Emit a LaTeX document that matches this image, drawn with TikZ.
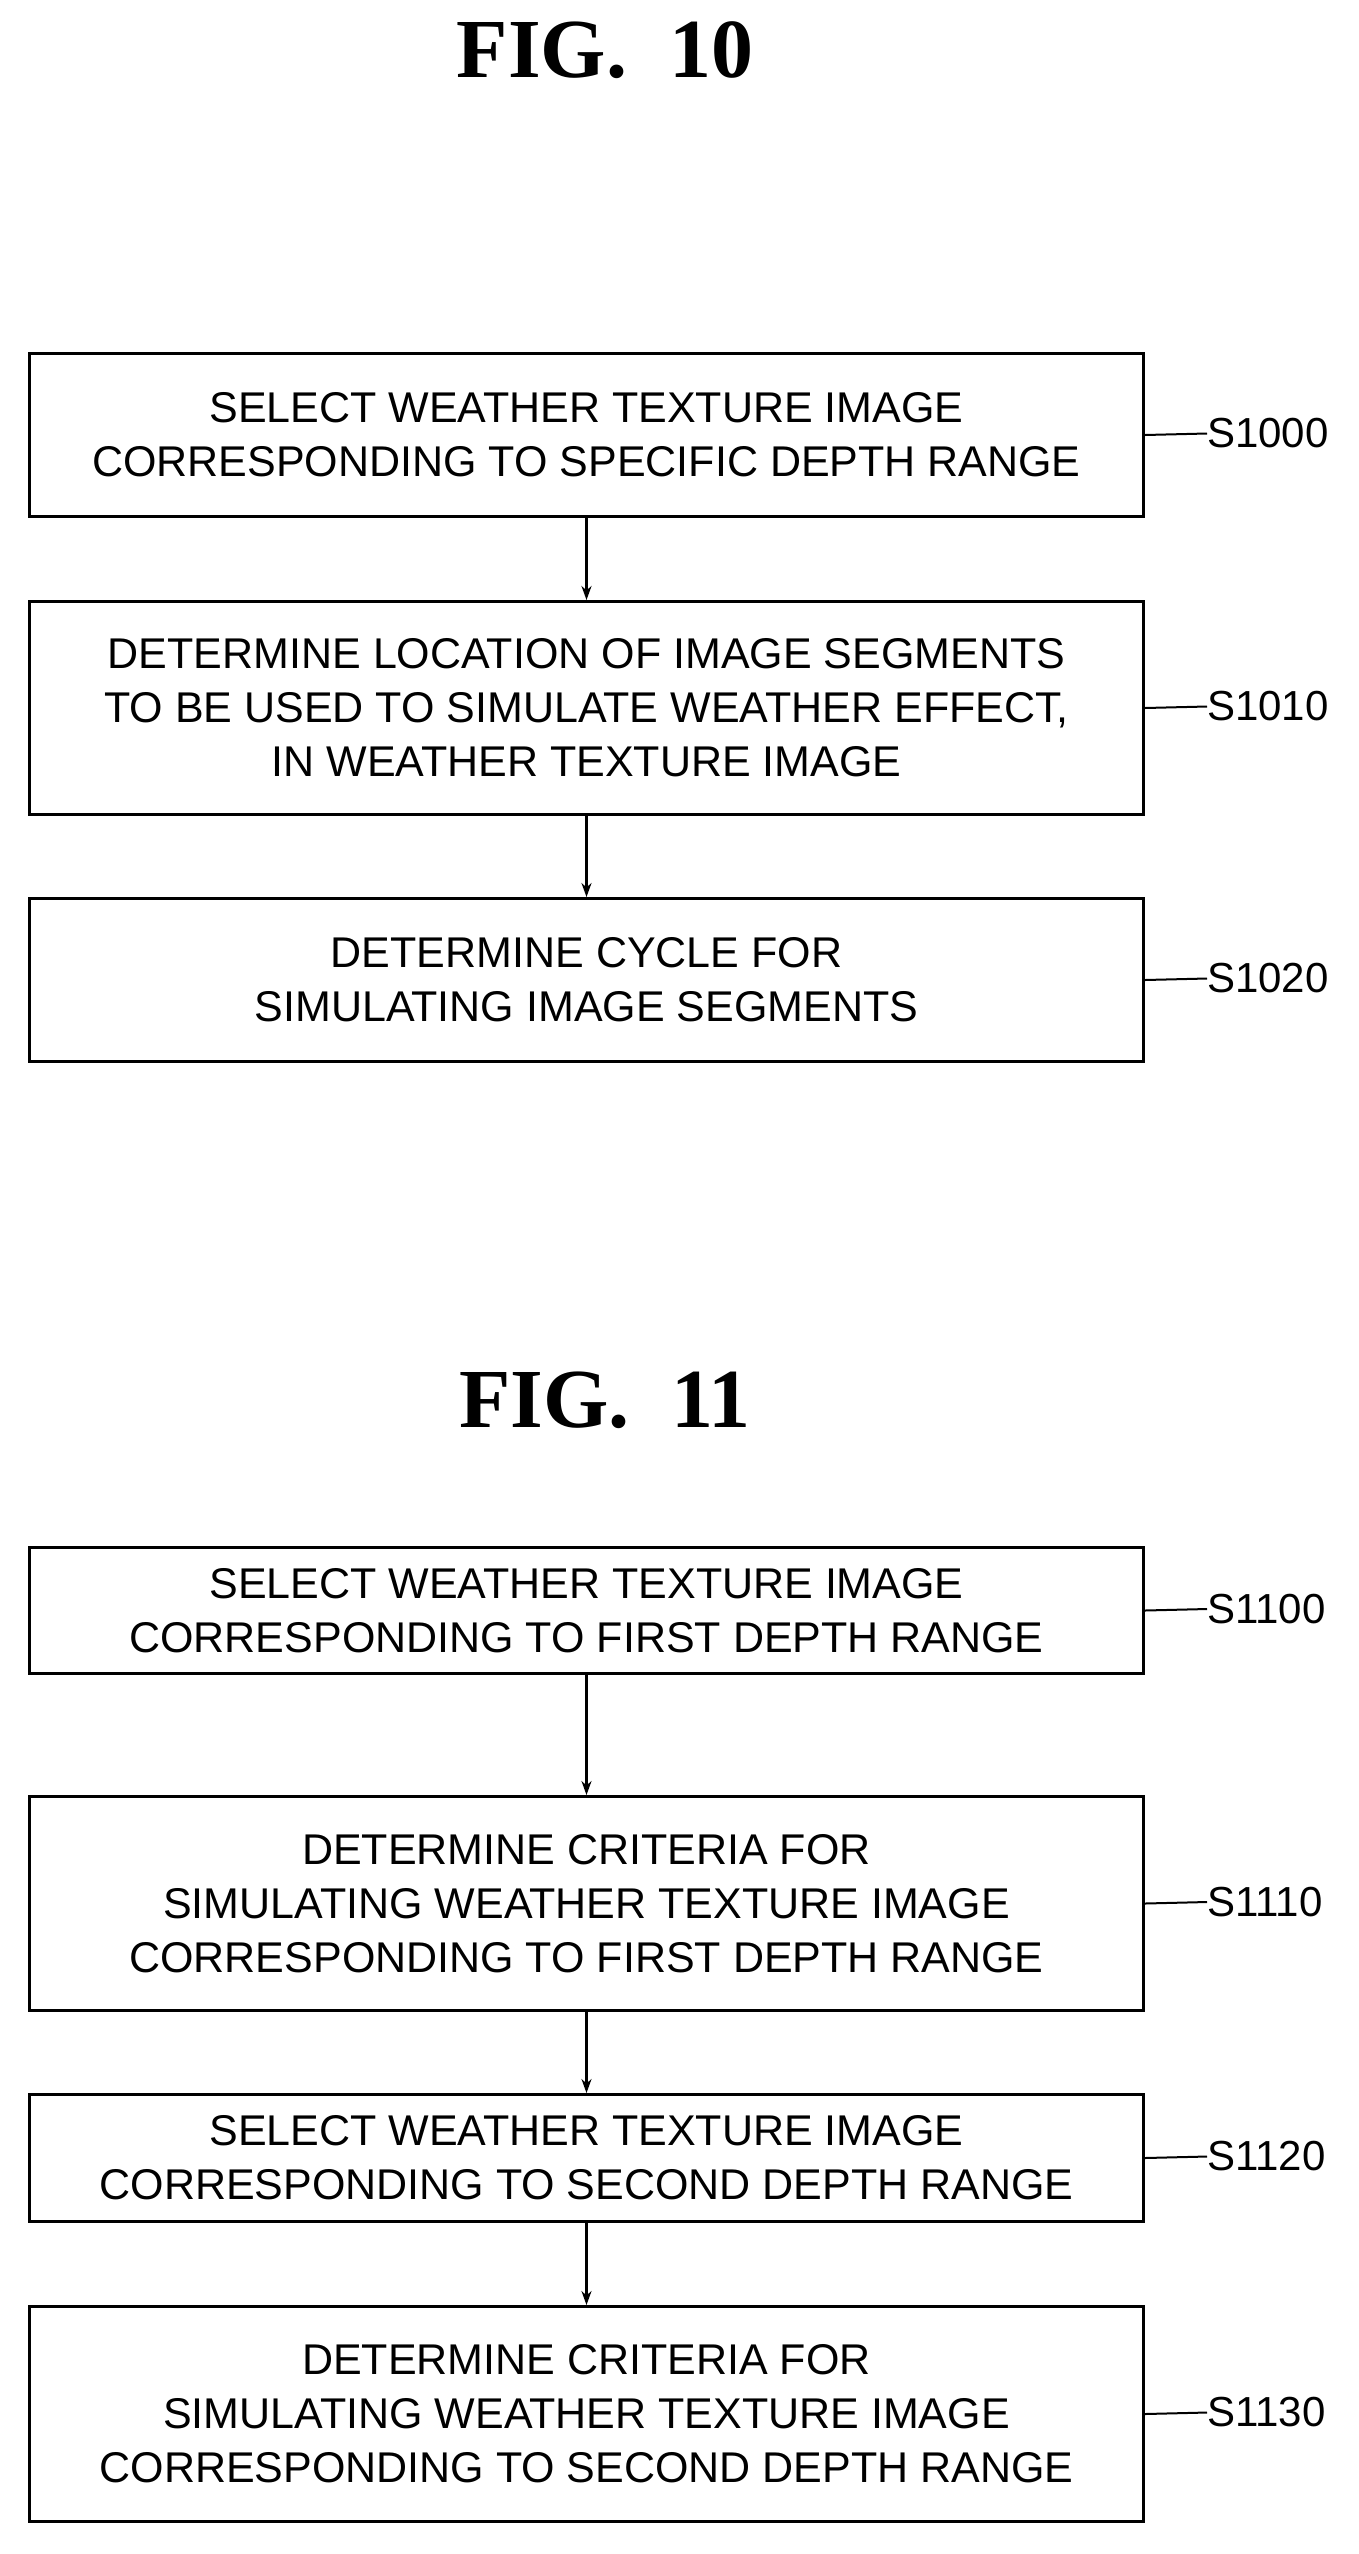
\documentclass[tikz,border=0pt]{standalone}
\usepackage{fontspec}
\setmainfont{Liberation Sans}
\newfontfamily\titlefont{Liberation Serif}
\usetikzlibrary{arrows.meta}
\begin{document}
\begin{tikzpicture}[x=1pt,y=-1pt,
  stepbox/.style={draw,line width=3pt,minimum width=1114pt,align=center,font=\fontsize{43}{54}\selectfont,anchor=north west,inner sep=0pt},
  conn/.style={line width=2.5pt,-{Stealth[length=14pt,width=10pt]}},
  lbl/.style={font=\fontsize{42}{50}\selectfont,anchor=west,inner sep=0pt},
  lead/.style={line width=2pt},
  ttl/.style={font=\titlefont\bfseries\fontsize{84}{90}\selectfont}]
\useasboundingbox (0,0) rectangle (1358,2554);
\node[ttl] (t10) at (605,50) {FIG.\ \ 10};
\node[ttl] (t11) at (605,1400) {FIG.\ \ 11};
\newcommand\mybox[5]{%
  \node[stepbox,minimum height=#3pt] (#1) at (28,#2) {#4};
  \node[lbl] (#1l) at (1207,#2+#3/2) {#5};
  \draw[lead] (#1.east) -- (#1l.west);}
\mybox{a}{352}{163}{SELECT WEATHER TEXTURE IMAGE\\CORRESPONDING TO SPECIFIC DEPTH RANGE}{S1000}
\mybox{b}{600}{213}{DETERMINE LOCATION OF IMAGE SEGMENTS\\TO BE USED TO SIMULATE WEATHER EFFECT,\\IN WEATHER TEXTURE IMAGE}{S1010}
\mybox{c}{897}{163}{DETERMINE CYCLE FOR\\SIMULATING IMAGE SEGMENTS}{S1020}
\mybox{d}{1546}{126}{SELECT WEATHER TEXTURE IMAGE\\CORRESPONDING TO FIRST DEPTH RANGE}{S1100}
\mybox{e}{1795}{214}{DETERMINE CRITERIA FOR\\SIMULATING WEATHER TEXTURE IMAGE\\CORRESPONDING TO FIRST DEPTH RANGE}{S1110}
\mybox{f}{2093}{127}{SELECT WEATHER TEXTURE IMAGE\\CORRESPONDING TO SECOND DEPTH RANGE}{S1120}
\mybox{g}{2305}{215}{DETERMINE CRITERIA FOR\\SIMULATING WEATHER TEXTURE IMAGE\\CORRESPONDING TO SECOND DEPTH RANGE}{S1130}
\draw[conn] (a.south) -- (b.north);
\draw[conn] (b.south) -- (c.north);
\draw[conn] (d.south) -- (e.north);
\draw[conn] (e.south) -- (f.north);
\draw[conn] (f.south) -- (g.north);
\end{tikzpicture}
\end{document}
